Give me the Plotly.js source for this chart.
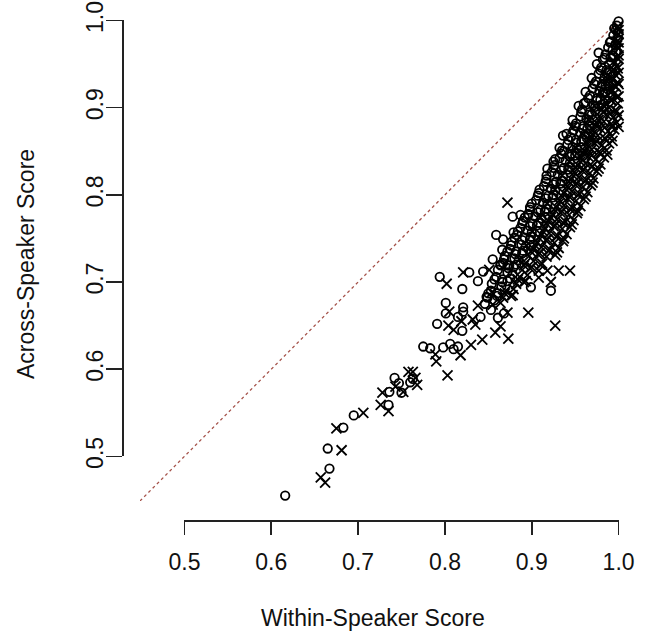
<!DOCTYPE html>
<html>
<head>
<meta charset="utf-8">
<script src="https://cdn.plot.ly/plotly-3.0.1.min.js"></script>
<style>html,body{margin:0;padding:0;background:#fff;}#chart{width:648px;height:634px;}</style>
</head>
<body>
<div id="chart"></div>
<script>
// ---- data ----
const tickValues = [0.5, 0.6, 0.7, 0.8, 0.9, 1.0];
const tickLabels = ["0.5", "0.6", "0.7", "0.8", "0.9", "1.0"];
const xTitle = "Within-Speaker Score";
const yTitle = "Across-Speaker Score";
const diagonal = [0.40, 1.00];   // reference line y = x

// pch 1 (open circles)
const circleX = [
0.616,0.667,0.665,0.683,0.695,0.735,0.736,0.742,0.747,0.750,0.760,0.763,0.775,0.783,0.798,0.806,0.810,0.815,
0.791,0.801,0.801,0.815,0.820,0.821,0.821,0.841,0.848,0.853,0.861,0.868,0.794,0.820,0.828,0.838,0.844,0.855,
0.864,0.872,0.859,0.867,0.866,0.879,0.878,0.887,0.896,0.899,0.922,0.918,0.927,0.936,0.937,0.977,0.960,
1.000,0.998,0.997,1.000,0.994,0.999,0.991,0.996,0.988,0.993,0.985,0.991,0.997,0.982,0.989,0.980,0.986,0.977,
0.984,0.990,0.974,0.981,0.970,0.978,0.985,0.967,0.975,0.982,0.962,0.971,0.979,0.958,0.967,0.973,0.956,0.963,
0.969,0.951,0.960,0.966,0.948,0.956,0.964,0.945,0.951,0.961,0.941,0.947,0.957,0.935,0.946,0.952,0.932,0.939,
0.950,0.926,0.937,0.944,0.923,0.930,0.942,0.917,0.928,0.936,0.914,0.922,0.933,0.908,0.919,0.927,0.905,0.913,
0.924,0.898,0.910,0.918,0.896,0.904,0.915,0.890,0.901,0.911,0.887,0.895,0.906,0.883,0.892,0.900,0.877,0.888,
0.898,0.875,0.882,0.893,0.869,0.880,0.889,0.867,0.874,0.885,0.861,0.872,0.879,0.859,0.866,0.878,0.854,0.865,
0.872,0.853,0.860,0.849,0.857,0.846,
0.995,0.990,0.997,0.984,0.993,0.979,0.987,0.972,0.980,0.988,0.965,0.975,0.957,0.966,0.973,0.950,0.959,0.966,
0.942,0.951,0.959,0.934,0.944,0.952,0.925,0.934,0.944,0.916,0.925,0.935,0.907,0.916,0.925,0.898,0.907,0.917,
0.889,0.898,0.908,0.880,0.889,0.899,0.872,0.881,0.890,0.864,0.873,0.882,0.857,0.866,0.875,0.850,0.860,
0.975,0.969,0.962,0.954,0.947,0.940,0.932,0.925,0.917,0.909,0.900,0.892,0.884,0.876,0.868
];
const circleY = [
0.455,0.486,0.509,0.533,0.547,0.559,0.574,0.590,0.584,0.573,0.585,0.589,0.626,0.624,0.625,0.629,0.623,0.626,
0.652,0.676,0.664,0.660,0.644,0.671,0.666,0.660,0.683,0.668,0.659,0.664,0.706,0.692,0.711,0.701,0.712,0.726,
0.720,0.719,0.754,0.749,0.737,0.757,0.775,0.777,0.777,0.694,0.690,0.830,0.841,0.868,0.850,0.963,0.905,
0.999,0.994,0.989,0.986,0.983,0.979,0.976,0.972,0.969,0.966,0.961,0.958,0.964,0.955,0.950,0.946,0.943,0.939,
0.935,0.941,0.930,0.927,0.922,0.919,0.925,0.914,0.911,0.917,0.906,0.903,0.909,0.898,0.895,0.901,0.890,0.887,
0.892,0.882,0.879,0.885,0.874,0.871,0.876,0.866,0.863,0.869,0.858,0.855,0.861,0.851,0.847,0.853,0.842,0.839,
0.845,0.834,0.831,0.837,0.826,0.823,0.829,0.818,0.815,0.821,0.810,0.807,0.813,0.802,0.799,0.805,0.794,0.791,
0.797,0.786,0.783,0.789,0.778,0.775,0.781,0.770,0.767,0.773,0.762,0.759,0.765,0.754,0.751,0.757,0.746,0.743,
0.749,0.738,0.735,0.741,0.730,0.727,0.733,0.722,0.719,0.725,0.714,0.711,0.717,0.706,0.703,0.709,0.698,0.695,
0.701,0.690,0.687,0.682,0.679,0.675,
0.991,0.975,0.972,0.957,0.960,0.943,0.940,0.927,0.924,0.928,0.911,0.908,0.895,0.892,0.896,0.879,0.876,0.880,
0.863,0.860,0.864,0.847,0.844,0.848,0.831,0.828,0.832,0.815,0.812,0.816,0.799,0.796,0.800,0.783,0.780,0.784,
0.767,0.764,0.768,0.751,0.748,0.752,0.735,0.732,0.736,0.719,0.716,0.720,0.703,0.700,0.704,0.687,0.684,
0.950,0.934,0.918,0.902,0.886,0.870,0.854,0.838,0.822,0.806,0.790,0.774,0.758,0.742,0.726
];

// pch 4 (crosses)
const crossX = [
0.657,0.662,0.681,0.675,0.706,0.726,0.735,0.728,0.743,0.752,0.758,0.763,0.766,0.768,0.789,0.790,0.803,0.818,
0.830,0.843,0.873,0.804,0.810,0.819,0.832,0.835,0.858,0.864,0.872,0.896,0.927,0.805,0.838,0.854,0.802,0.821,
0.851,0.918,0.931,0.944,0.922,0.908,0.872,0.947,
0.999,1.000,0.999,0.998,1.000,1.000,0.995,1.000,0.992,0.998,0.996,1.000,0.987,0.993,0.999,0.991,0.997,0.988,
0.995,1.000,0.985,0.992,0.999,0.981,0.989,0.996,0.978,0.986,0.994,1.000,0.975,0.983,0.991,0.998,0.971,0.979,
0.988,0.995,0.968,0.976,0.984,0.992,0.964,0.972,0.981,0.989,0.961,0.969,0.977,0.986,0.957,0.965,0.974,0.983,
0.953,0.962,0.970,0.979,0.949,0.958,0.967,0.975,0.945,0.954,0.963,0.971,0.941,0.950,0.959,0.968,0.937,0.946,
0.955,0.964,0.932,0.941,0.951,0.960,0.928,0.937,0.947,0.956,0.924,0.933,0.943,0.952,0.919,0.929,0.939,0.948,
0.915,0.925,0.935,0.944,0.911,0.920,0.930,0.940,0.906,0.916,0.926,0.936,0.902,0.911,0.921,0.931,0.897,0.907,
0.917,0.927,0.893,0.902,0.912,0.889,0.898,0.908,0.886,0.895,0.882,0.891,0.870,0.879,0.867,0.876,0.855,0.864,
1.000,1.000,0.998,0.994,0.999,0.995,1.000,0.984,0.991,0.998,0.982,0.990,0.998,0.974,0.984,0.993,1.000,0.967,
0.975,0.985,0.993,0.960,0.969,0.979,0.987,0.951,0.960,0.969,0.977,0.943,0.952,0.961,0.970,0.934,0.944,0.953,
0.962,0.926,0.935,0.944,0.953,0.917,0.927,0.936,0.946,0.908,0.918,0.928,0.937,0.899,0.909,0.919,0.929,0.891,
0.900,0.910,0.884,0.893,0.869,0.878,
0.985,0.979,0.972,0.965,0.958,0.950,0.943,0.935,0.927,0.918,0.910,0.901,0.894,0.886,
0.990,0.983,0.977,0.970,0.963,0.956,0.948,0.940,0.931,0.922,0.913,0.904
];
const crossY = [
0.476,0.470,0.507,0.532,0.550,0.559,0.552,0.573,0.580,0.574,0.597,0.597,0.590,0.582,0.617,0.609,0.593,0.616,
0.628,0.634,0.635,0.650,0.645,0.655,0.657,0.651,0.642,0.649,0.665,0.665,0.650,0.666,0.673,0.688,0.698,0.711,
0.714,0.713,0.713,0.713,0.700,0.705,0.791,0.877,
0.993,0.984,0.977,0.971,0.968,0.960,0.953,0.956,0.946,0.948,0.938,0.940,0.930,0.932,0.929,0.922,0.924,0.914,
0.916,0.913,0.906,0.908,0.905,0.898,0.900,0.897,0.890,0.892,0.889,0.891,0.882,0.884,0.881,0.883,0.874,0.876,
0.873,0.875,0.866,0.868,0.865,0.867,0.858,0.860,0.857,0.859,0.850,0.852,0.849,0.851,0.842,0.844,0.841,0.843,
0.834,0.836,0.833,0.835,0.826,0.828,0.825,0.827,0.818,0.820,0.817,0.819,0.810,0.812,0.809,0.811,0.802,0.804,
0.801,0.803,0.794,0.796,0.793,0.795,0.786,0.788,0.785,0.787,0.778,0.780,0.777,0.779,0.770,0.772,0.769,0.771,
0.762,0.764,0.761,0.763,0.754,0.756,0.753,0.755,0.746,0.748,0.745,0.747,0.738,0.740,0.737,0.739,0.730,0.732,
0.729,0.731,0.722,0.724,0.721,0.714,0.716,0.713,0.706,0.708,0.698,0.700,0.690,0.692,0.682,0.684,0.674,0.676,
0.989,0.975,0.957,0.943,0.945,0.925,0.927,0.911,0.909,0.912,0.895,0.893,0.896,0.879,0.877,0.880,0.878,0.863,
0.861,0.864,0.862,0.847,0.845,0.848,0.846,0.831,0.829,0.832,0.830,0.815,0.813,0.816,0.814,0.799,0.797,0.800,
0.798,0.783,0.781,0.784,0.782,0.767,0.765,0.768,0.766,0.751,0.749,0.752,0.750,0.735,0.733,0.736,0.734,0.719,
0.717,0.720,0.703,0.701,0.687,0.685,
0.935,0.918,0.902,0.886,0.870,0.854,0.838,0.822,0.806,0.790,0.774,0.758,0.742,0.726,
0.918,0.902,0.886,0.870,0.854,0.838,0.822,0.806,0.790,0.774,0.758,0.742
];

// ---- layout geometry ----
const W = 648, H = 634;
const M = {l: 122, r: 11, t: 2, b: 114};
const plotW = W - M.l - M.r, plotH = H - M.t - M.b;
const dataRange = [0.4488, 1.0212];
const dataLeftPx = 140, dataBottomPx = 501;   // where the data region starts inside the plot box
const xDom0 = (dataLeftPx - M.l) / plotW;
const yDom0 = (H - M.b - dataBottomPx) / plotH;
const span = dataRange[1] - dataRange[0];
function xFrac(v){ return xDom0 + (1 - xDom0) * (v - dataRange[0]) / span; }
function yFrac(v){ return yDom0 + (1 - yDom0) * (v - dataRange[0]) / span; }

const font = {family: '"Liberation Sans", Arial, Helvetica, sans-serif', size: 23, color: '#111'};

const traces = [
  {type: 'scatter', mode: 'lines', x: diagonal, y: diagonal, hoverinfo: 'skip',
   line: {color: '#a5524a', width: 1.3, dash: '3px,3px'}},
  {type: 'scatter', mode: 'markers', x: circleX, y: circleY, name: 'circles',
   marker: {symbol: 'circle-open', size: 8.5, color: '#000', line: {width: 1.8, color: '#000'}}},
  {type: 'scatter', mode: 'markers', x: crossX, y: crossY, name: 'crosses',
   marker: {symbol: 'x-thin-open', size: 10, color: '#000', line: {width: 1.8, color: '#000'}}},
  {type: 'scatter', mode: 'markers', x: [], y: [], xaxis: 'x2', yaxis: 'y2', hoverinfo: 'skip'}
];

const axisStyle = {
  showline: true, linecolor: '#222', linewidth: 1.6, ticks: 'outside', tickwidth: 1.6, tickcolor: '#222',
  tickvals: tickValues, ticktext: tickLabels, tickfont: font, showgrid: false, zeroline: false,
  range: [0.5, 1.0], anchor: 'free', position: 0, fixedrange: true
};

const layout = {
  width: W, height: H, margin: {l: M.l, r: M.r, t: M.t, b: M.b, pad: 0},
  paper_bgcolor: '#fff', plot_bgcolor: 'rgba(0,0,0,0)', showlegend: false,
  xaxis: {domain: [xDom0, 1], range: dataRange, visible: false, fixedrange: true},
  yaxis: {domain: [yDom0, 1], range: dataRange, visible: false, fixedrange: true},
  xaxis2: Object.assign({}, axisStyle, {domain: [xFrac(0.5), xFrac(1.0)], ticklen: 13, ticklabelstandoff: 8}),
  yaxis2: Object.assign({}, axisStyle, {domain: [yFrac(0.5), yFrac(1.0)], ticklen: 16, tickangle: -90, ticklabelstandoff: -6}),
  annotations: [
    {text: xTitle, xref: 'paper', yref: 'paper', x: (373 - M.l) / plotW, y: (H - M.b - 618) / plotH,
     xanchor: 'center', yanchor: 'middle', showarrow: false, font: font},
    {text: yTitle, xref: 'paper', yref: 'paper', x: (26 - M.l) / plotW, y: (H - M.b - 264) / plotH,
     xanchor: 'center', yanchor: 'middle', textangle: -90, showarrow: false, font: font}
  ]
};

Plotly.newPlot('chart', traces, layout, {staticPlot: true, displayModeBar: false});
</script>
</body>
</html>
